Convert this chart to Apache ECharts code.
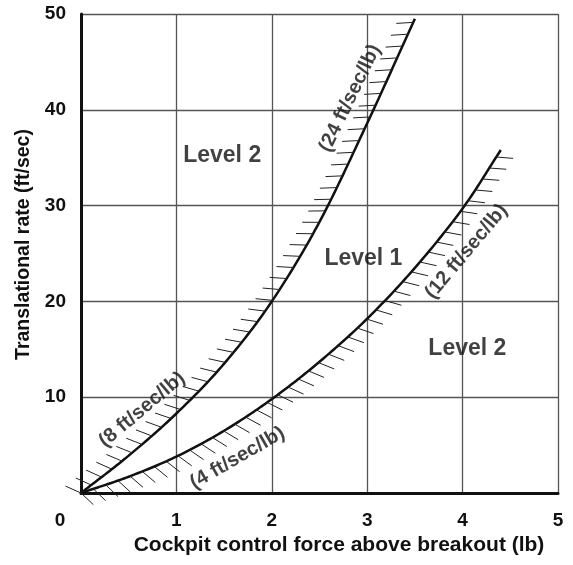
<!DOCTYPE html>
<html>
<head>
<meta charset="utf-8">
<script src="https://cdn.jsdelivr.net/npm/echarts@6/dist/echarts.min.js"></script>
<style>
html,body{margin:0;padding:0;background:#fff}
#chart{width:573px;height:565px}
</style>
</head>
<body>
<div id="chart"></div>
<script>
// boundary curves (lb -> ft/sec)
const upperForce = [0, 0.5, 1, 1.5, 2, 2.5, 3, 3.5]
const upperRate = [0, 3.9, 8.3, 13.5, 20, 28.3, 38.6, 49.5]
const lowerForce = [0, 0.5, 1, 1.5, 2, 2.5, 3, 3.5, 4, 4.4]
const lowerRate = [0, 1.7, 3.8, 6.5, 9.8, 13.7, 18.2, 23.5, 29.7, 35.8]

// region names
const regionNames = ['Level 2', 'Level 1', 'Level 2']
const regionForce = [1.48, 2.96, 4.05]
const regionRate = [35.2, 24.5, 15.1]

// gradient labels along the curves
const slopeNames = ['(8 ft/sec/lb)', '(24 ft/sec/lb)', '(4 ft/sec/lb)', '(12 ft/sec/lb)']
const slopeForce = [0.64, 2.82, 1.64, 4.04]
const slopeRate = [8.7, 41.2, 3.65, 25.2]
const slopeAngle = [40, 64, 30, 50]

const FONT = '"Liberation Sans", Arial, sans-serif'
const INK = '#111'
const HATCH = 17   // hatch length px
const STEP = 13    // hatch spacing px

const chart = echarts.init(document.getElementById('chart'))

// catmull-rom through the pixel points so the boundary bends smoothly
const spline = (pts) => {
  const out = [pts[0]]
  const n = pts.length
  for (let i = 0; i < n - 1; i++) {
    const p1 = pts[i], p2 = pts[i + 1]
    const p0 = i > 0 ? pts[i - 1] : [2 * p1[0] - p2[0], 2 * p1[1] - p2[1]]
    const p3 = i < n - 2 ? pts[i + 2] : [2 * p2[0] - p1[0], 2 * p2[1] - p1[1]]
    for (let k = 1; k <= 20; k++) {
      const t = k / 20, t2 = t * t, t3 = t2 * t
      out.push([0, 1].map(d => 0.5 * (2 * p1[d] + (-p0[d] + p2[d]) * t +
        (2 * p0[d] - 5 * p1[d] + 4 * p2[d] - p3[d]) * t2 +
        (-p0[d] + 3 * p1[d] - 3 * p2[d] + p3[d]) * t3)))
    }
  }
  return out
}

// the boundary line plus short ticks on its Level 2 side
const boundarySeries = (xs, ys, turn) => ({
  type: 'custom',
  silent: true,
  clip: false,
  z: 4,
  data: [[0, 0]],
  renderItem: (params, api) => {
    const pts = spline(xs.map((x, i) => api.coord([x, ys[i]])))
    const kids = [{
      type: 'polyline',
      shape: {points: pts},
      style: {stroke: INK, lineWidth: 2.5, fill: null}
    }]
    let carry = 0
    for (let i = 0; i < pts.length - 1; i++) {
      const [x0, y0] = pts[i]
      const [x1, y1] = pts[i + 1]
      const dx = x1 - x0, dy = y1 - y0
      const len = Math.hypot(dx, dy)
      const ang = Math.atan2(-dy, dx) + turn * Math.PI / 180
      let s = carry
      while (s <= len) {
        const px = x0 + dx * s / len, py = y0 + dy * s / len
        kids.push({
          type: 'line',
          shape: {x1: px, y1: py, x2: px + HATCH * Math.cos(ang), y2: py - HATCH * Math.sin(ang)},
          style: {stroke: '#222', lineWidth: 1}
        })
        s += STEP
      }
      carry = s - len
    }
    return {type: 'group', children: kids}
  }
})

const textStyle = {fontFamily: FONT, fontWeight: 'bold', color: INK}

const options = {
  animation: false,
  grid: {left: 81, right: 15, top: 14, bottom: 72, outerBoundsMode: 'none'},
  xAxis: {
    type: 'value',
    min: 0, max: 5, interval: 1,
    name: 'Cockpit control force above breakout (lb)',
    nameLocation: 'middle',
    nameGap: 42,
    nameTextStyle: {...textStyle, fontSize: 21, padding: [0, 0, 0, 39]},
    axisLine: {show: true, onZero: false, lineStyle: {color: '#111', width: 3}},
    axisTick: {show: false},
    splitLine: {show: true, lineStyle: {color: '#555', width: 1.3}},
    axisLabel: {
      ...textStyle, fontSize: 19, margin: 18,
      formatter: v => v === 0 ? '{z|0}' : String(v),
      rich: {z: {...textStyle, fontSize: 19, padding: [0, 42, 0, 0]}}
    }
  },
  yAxis: {
    type: 'value',
    min: 0, max: 50, interval: 10,
    name: 'Translational rate (ft/sec)',
    nameLocation: 'middle',
    nameRotate: 90,
    nameGap: 44,
    nameTextStyle: {...textStyle, fontSize: 19.5, padding: [0, 0, 0, 18]},
    axisLine: {show: true, onZero: false, lineStyle: {color: '#111', width: 3}},
    axisTick: {show: false},
    splitLine: {show: true, lineStyle: {color: '#555', width: 1.3}},
    axisLabel: {
      ...textStyle, fontSize: 19, margin: 15,
      formatter: v => v === 0 ? '' : String(v)
    }
  },
  series: [
    boundarySeries(upperForce, upperRate, 118),
    boundarySeries(lowerForce, lowerRate, -62),
    {
      type: 'scatter',
      symbolSize: 0,
      silent: true,
      z: 5,
      data: regionNames.map((n, i) => ({name: n, value: [regionForce[i], regionRate[i]]})),
      label: {show: true, position: 'inside', formatter: '{b}', ...textStyle, fontSize: 23}
    },
    {
      type: 'scatter',
      symbolSize: 0,
      silent: true,
      z: 5,
      data: slopeNames.map((n, i) => ({
        name: n,
        value: [slopeForce[i], slopeRate[i]],
        label: {rotate: slopeAngle[i]}
      })),
      label: {show: true, position: 'inside', formatter: '{b}', ...textStyle, fontSize: 20}
    }
  ]
}

chart.setOption(options)
window.addEventListener('resize', () => chart.resize())
</script>
</body>
</html>
